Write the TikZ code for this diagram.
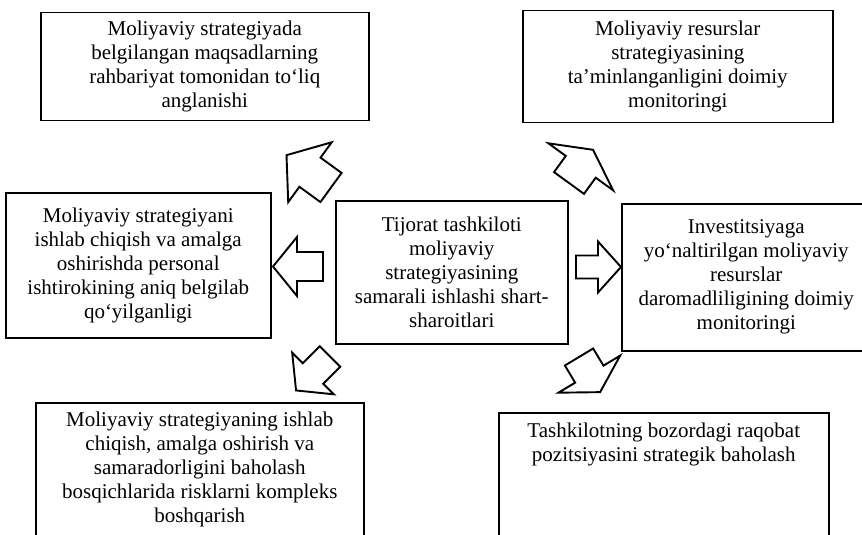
\documentclass[tikz,border=0pt]{standalone}
\usepackage{fontspec}
\setmainfont{Liberation Serif}
\usetikzlibrary{positioning}

\tikzset{
  box/.style={draw, line width=0.75pt, rectangle, anchor=north west, inner sep=0pt},
  txt/.style={align=center, inner sep=0pt, font=\fontsize{10.5}{12}\selectfont},
  arrowline/.style={line width=0.95pt, line join=miter},
  pics/fatarrow/.style n args={4}{code={
    \draw[arrowline] (0,-#4) -- ({#1-#2},-#4) -- ({#1-#2},-#3) -- (#1,0)
      -- ({#1-#2},#3) -- ({#1-#2},#4) -- (0,#4) -- cycle;
  }}
}

\begin{document}
\begin{tikzpicture}[x=0.5pt, y=-0.5pt]
\useasboundingbox (0,0) rectangle (862,535);
\fill[white] (0,0) rectangle (862,535);
\clip (0,0) rectangle (862,535);
% Top boxes
\node[box, txt, minimum width=164pt, minimum height=54pt] (tl) at (40,12)
  {Moliyaviy strategiyada\\ belgilangan maqsadlarning\\ rahbariyat tomonidan to‘liq\\ anglanishi};
\node[box, txt, minimum width=155pt, minimum height=56pt] (tr) at (522,10)
  {Moliyaviy resurslar\\ strategiyasining\\ ta’minlanganligini doimiy\\ monitoringi};
% Middle row
\node[box, txt, minimum width=132.5pt, minimum height=72.5pt] (ml) at (5,192)
  {Moliyaviy strategiyani\\ ishlab chiqish va amalga\\ oshirishda personal\\ ishtirokining aniq belgilab\\ qo‘yilganligi};
\node[box, txt, minimum width=116pt, minimum height=71.5pt] (centre) at (335,200)
  {Tijorat tashkiloti\\ moliyaviy\\ strategiyasining\\ samarali ishlashi shart-\\ sharoitlari};
\node[box, txt, minimum width=124.5pt, minimum height=73.5pt] (mr) at (621,203)
  {Investitsiyaga\\ yo‘naltirilgan moliyaviy\\ resurslar\\ daromadliligining doimiy\\ monitoringi};
% Bottom boxes (cut by the page edge)
\node[box, minimum width=164pt, minimum height=71.5pt] (bl) at (35,402) {};
\node[txt, anchor=north] (bltext) at ([yshift=-5pt]bl.north)
  {Moliyaviy strategiyaning ishlab\\ chiqish, amalga oshirish va\\ samaradorligini baholash\\ bosqichlarida risklarni kompleks\\ boshqarish};
\node[box, minimum width=165pt, minimum height=66.5pt] (br) at (498,412) {};
\node[txt, anchor=north] (brtext) at ([yshift=-5.5pt]br.north)
  {Tashkilotning bozordagi raqobat\\ pozitsiyasini strategik baholash};
% Block arrows round the centre box
\pic[rotate=144] (arTL) at (331,187.5) {fatarrow={55}{29}{37}{18}};
\pic[rotate=54] (arTR) at (569,183) {fatarrow={41}{21}{40}{18.5}};
\pic[rotate=180] (arL) at (323,266.5) {fatarrow={50}{24}{29.5}{14.5}};
\pic[rotate=0] (arR) at (576,267) {fatarrow={45}{23}{25.5}{11.5}};
\pic[rotate=225] (arBL) at (330,356.5) {fatarrow={48}{24}{29.5}{14.5}};
\pic[rotate=301] (arBR) at (579,357) {fatarrow={41}{21}{36}{16.5}};
\end{tikzpicture}
\end{document}
